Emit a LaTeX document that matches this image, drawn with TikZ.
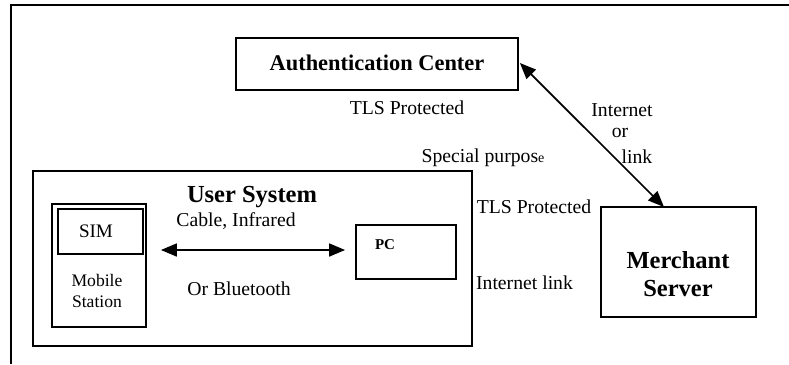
\documentclass[tikz,border=0pt]{standalone}
\usepackage{fontspec}
\setmainfont{Liberation Serif}
\usetikzlibrary{arrows.meta}
\begin{document}
\begin{tikzpicture}[x=1pt,y=-1pt,
  box/.style={draw,line width=1.8pt,inner sep=0pt,minimum width=#1},
  lbl/.style={inner sep=0pt,font=\fontsize{19.7}{22}\selectfont},
  title/.style={inner sep=0pt,font=\fontsize{24.5}{28}\selectfont\bfseries,align=center},
  link/.style={line width=1.7pt,{Triangle[length=16pt,width=13pt]}-{Triangle[length=16pt,width=13pt]}}]
  \useasboundingbox (0,0) rectangle (789,364);
  % page frame (top and left edges only)
  \coordinate (fbl) at (11,364);
  \coordinate (ftl) at (11,5);
  \coordinate (ftr) at (789,5);
  \draw[line width=1.8pt] (fbl) -- (ftl) -- (ftr);

  % boxes
  \node[box=282pt,minimum height=52pt] (auth) at (377,64) {};
  \node[inner sep=0pt,font=\fontsize{22.4}{26}\selectfont\bfseries] (authtxt) at (377,63) {Authentication Center};
  \node[box=439pt,minimum height=175pt] (user) at (252.5,258.5) {};
  \node[box=94pt,minimum height=123pt] (mobile) at (99,265.5) {};
  \node[box=85pt,minimum height=45pt] (sim) at (100.5,231.5) {};
  \node[box=100pt,minimum height=54pt] (pc) at (406,252) {};
  \node[box=155pt,minimum height=110pt] (merchant) at (678.5,262) {};

  % box texts
  \node[title] (usertxt) at (252,197) {User System};
  \node[lbl,font=\fontsize{19.1}{22}\selectfont] (simtxt) at (96,231) {SIM};
  \node[lbl,font=\fontsize{17.6}{21.5}\selectfont,align=center] (mstxt) at (97,291) {Mobile\\Station};
  \node[inner sep=0pt,font=\fontsize{15}{18}\selectfont\bfseries] (pctxt) at (385,245) {PC};
  \node[title] (merchtxt) at (678,274) {Merchant\\Server};

  % connectors
  \coordinate (msin) at (664,207);
  \draw[link] ([xshift=1pt,yshift=1pt]auth.east) -- (msin);
  \draw[link] ([xshift=14pt,yshift=2pt]mobile.east |- pc.west) -- ([xshift=-10pt,yshift=2pt]pc.west);

  % labels
  \node[lbl] (tls1) at (407,108) {TLS Protected};
  \node[lbl] (inet1) at (622,110) {Internet};
  \node[lbl] (or1) at (620,133) {or};
  \node[lbl] (link1) at (637,157) {link};
  \node[lbl] (special) at (483,158) {Special purpos{\fontsize{14}{16}\selectfont e}};
  \node[lbl] (cable) at (236,221) {Cable, Infrared};
  \node[lbl] (blue) at (239,289) {Or Bluetooth};
  \node[lbl] (tls2) at (534,207) {TLS Protected};
  \node[lbl] (inet2) at (524.5,283) {Internet link};
\end{tikzpicture}
\end{document}
